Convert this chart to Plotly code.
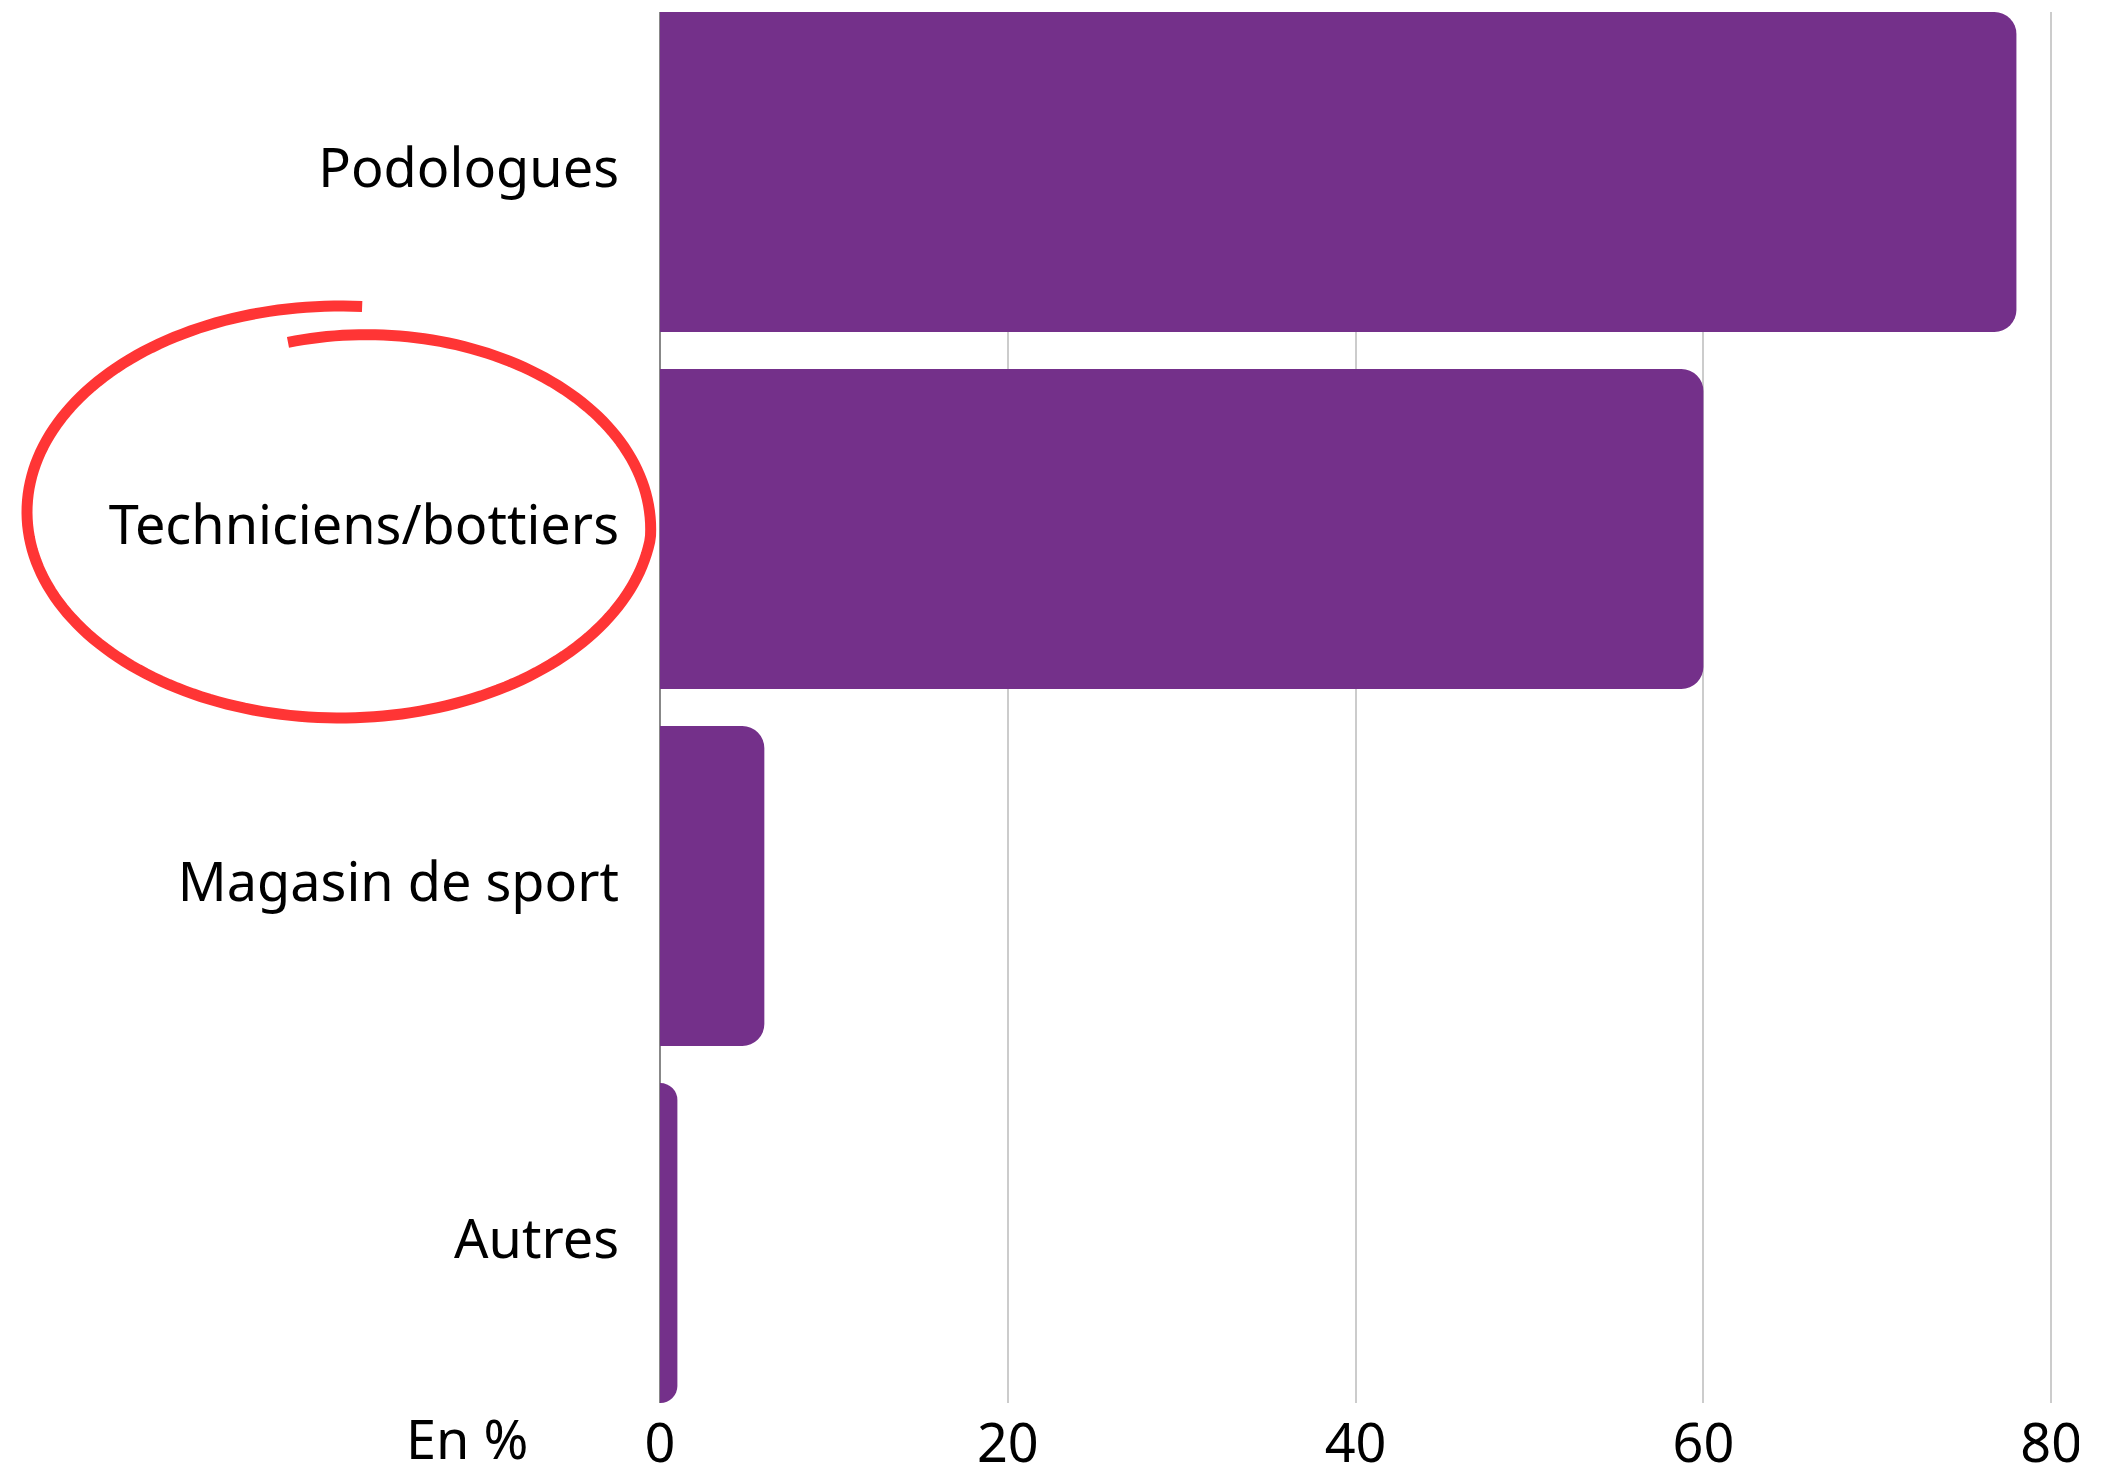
import numpy as np
import plotly.graph_objects as go

# ---- data ----
categories = ["Podologues", "Techniciens/bottiers", "Magasin de sport", "Autres"]
values = [78, 60, 6, 1]
x_ticks = [0, 20, 40, 60, 80]
x_ticklabels = ["0", "20", "40", "60", "80"]
unit_label = "En %"

# ---- layout constants (pixels) ----
W, H = 2106, 1480
ML, MR, MT, MB = 660, 0, 12, 77
PW, PH = W - ML - MR, H - MT - MB
PX_PER_UNIT = 17.39
XMAX = PW / PX_PER_UNIT
BAR_W = 0.896
FONT = "Noto Sans, Open Sans, sans-serif"
FS = 54
PURPLE = "#74308A"
RED = "#FF3535"


def to_paper(px, py):
    return (px - ML) / PW, (MT + PH - py) / PH


fig = go.Figure()
fig.add_trace(go.Bar(
    y=categories, x=values, orientation="h",
    width=BAR_W,
    marker=dict(color=PURPLE, line=dict(width=0)),
    hoverinfo="x+y",
))

# hand-drawn style circle around "Techniciens/bottiers"
cx, cy, rx, ry = 340, 512, 313, 206
t0, t1 = 1.77, 1.50 - 2 * np.pi
ts = np.linspace(t0, t1, 220)
prog = np.clip((t0 - ts) / 1.9, 0, 1)
f = 0.84 + 0.16 * prog
pts = []
for t, k in zip(ts, f):
    px = cx + rx * k * np.cos(t)
    py = cy - ry * k * np.sin(t)
    pts.append(to_paper(px, py))
path = "M " + " L ".join(f"{a:.5f},{b:.5f}" for a, b in pts)
shapes = [dict(type="path", xref="paper", yref="paper", path=path,
               line=dict(color=RED, width=11), layer="above")]

# clip of the last tick label at the right edge
x0c, y0c = to_paper(2079, 1410)
x1c, y1c = to_paper(W + 5, H + 5)
shapes.append(dict(type="rect", xref="paper", yref="paper",
                   x0=x0c, x1=x1c, y0=y0c, y1=y1c,
                   fillcolor="white", line=dict(width=0), layer="above"))

ax, ay = to_paper(530, 1438)
fig.update_layout(
    width=W, height=H,
    margin=dict(l=ML, r=MR, t=MT, b=MB, pad=0, autoexpand=False),
    paper_bgcolor="white", plot_bgcolor="white",
    font=dict(family=FONT, size=FS, color="black"),
    showlegend=False,
    barcornerradius=22,
    shapes=shapes,
    annotations=[dict(text=unit_label, xref="paper", yref="paper",
                      x=ax, y=ay, xanchor="right", yanchor="middle",
                      showarrow=False, font=dict(family=FONT, size=FS, color="black"))],
    xaxis=dict(
        range=[0, XMAX], tickvals=x_ticks, ticktext=x_ticklabels,
        showgrid=True, gridcolor="#CCCCCC", gridwidth=1.5,
        zeroline=True, zerolinecolor="#888888", zerolinewidth=2,
        showline=False, ticks="", ticklabelstandoff=4, automargin=False,
        tickfont=dict(family=FONT, size=FS, color="black"),
    ),
    yaxis=dict(
        categoryorder="array", categoryarray=categories,
        range=[3 + BAR_W / 2, -BAR_W / 2],
        showgrid=False, zeroline=False, showline=False, ticks="",
        ticklabelstandoff=40, ticklabelshift=4, automargin=False,
        tickfont=dict(family=FONT, size=FS, color="black"),
    ),
)

fig.write_html("out.html", config={"displayModeBar": False},
               post_script="document.body.style.margin='0';document.body.style.overflow='hidden';")
